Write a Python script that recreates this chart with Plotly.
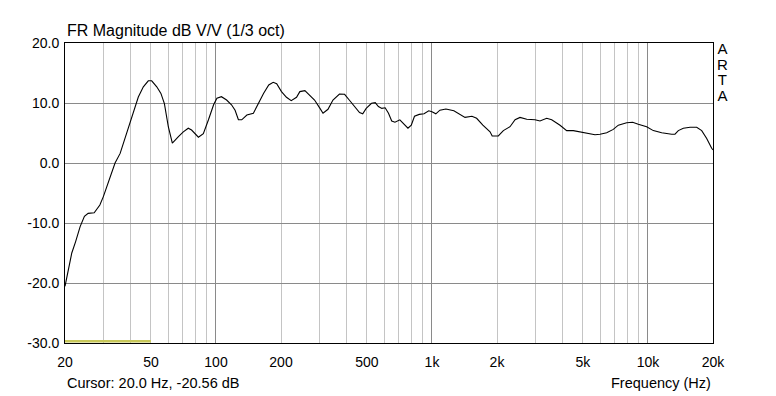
import math
import plotly.graph_objects as go

freq_hz = [20, 20.7, 21.5, 22.4, 23.5, 24.6, 25.6, 27.3, 29.0, 30.1, 31.7, 33.1, 34.1, 36.0,
           37.9, 40.0, 42.2, 43.7, 46.1, 48.6, 50.4, 53.2, 55.6, 57.7, 60.2, 62.8, 67.0, 70.6,
           74.4, 77.1, 82.9, 87.4, 92.3, 97.5, 101, 106, 112, 118, 122.6, 127, 131.6, 139,
           149, 156.5, 166, 175.5, 184, 191, 201, 212, 223, 236, 244.5, 258, 272, 286, 303,
           313, 330, 348, 373, 394, 414, 437, 462, 478, 496, 525, 546, 565, 586, 607, 629,
           651, 674, 710, 736, 774, 802, 830, 873, 919, 966, 1000, 1042, 1088, 1160, 1263,
           1422, 1531, 1610, 1720, 1857, 1900, 2028, 2140, 2298, 2425, 2556, 2746, 3000,
           3162, 3396, 3583, 3916, 4204, 4512, 4844, 5204, 5686, 5998, 6440, 6908, 7290,
           7968, 8494, 9020, 9860, 10586, 11576, 12876, 13336, 13818, 14576, 15660, 16812,
           17734, 18700, 19720, 20000]
mag_db = [-20.56, -17.8, -15.0, -13.1, -10.6, -8.9, -8.4, -8.3, -7.0, -5.6, -3.4, -1.4, 0.0, 1.6,
          4.1, 6.9, 9.4, 11.0, 12.7, 13.7, 13.7, 12.7, 11.6, 9.9, 6.0, 3.3, 4.4, 5.2,
          5.8, 5.5, 4.3, 4.9, 7.2, 9.7, 10.8, 11.05, 10.5, 9.7, 8.8, 7.2, 7.2, 8.0,
          8.3, 9.9, 11.6, 13.0, 13.45, 13.2, 11.9, 10.95, 10.4, 10.95, 11.9, 12.05, 11.3, 10.5, 9.1,
          8.3, 8.95, 10.5, 11.5, 11.45, 10.5, 9.4, 8.4, 8.2, 9.1, 9.95, 10.05, 9.4, 9.1, 9.2, 8.3,
          7.0, 6.8, 7.2, 6.6, 5.8, 6.3, 7.8, 8.1, 8.2, 8.7, 8.55, 8.2, 8.8, 9.0, 8.7,
          7.6, 7.8, 7.45, 6.3, 5.2, 4.5, 4.5, 5.4, 6.05, 7.2, 7.6, 7.3, 7.2,
          7.0, 7.45, 7.2, 6.3, 5.4, 5.4, 5.2, 5.05, 4.7, 4.8, 5.05, 5.6, 6.3,
          6.7, 6.8, 6.45, 6.05, 5.4, 5.05, 4.8, 4.8, 5.4, 5.8, 5.95, 5.95,
          5.4, 4.1, 2.45, 2.2]

marker_freq = [20, 50]
marker_db = [-29.7, -29.7]

x_tick_vals = [20, 50, 100, 200, 500, 1000, 2000, 5000, 10000, 20000]
x_tick_text = ["20", "50", "100", "200", "500", "1k", "2k", "5k", "10k", "20k"]
x_minor_vals = [30, 40, 60, 70, 80, 90, 300, 400, 600, 700, 800, 900,
                3000, 4000, 6000, 7000, 8000, 9000]
x_decade_vals = [100, 1000, 10000]
y_tick_vals = [-30, -20, -10, 0, 10, 20]
y_tick_text = ["-30.0", "-20.0", "-10.0", "0.0", "10.0", "20.0"]

FONT = "Liberation Sans, Arial, sans-serif"
LIGHT = "#c4c4c4"
DARK = "#8a8a8a"

fig = go.Figure()
fig.add_trace(go.Scatter(x=marker_freq, y=marker_db, mode="lines",
                         line=dict(color="#c8c85a", width=2.5), hoverinfo="skip"))
fig.add_trace(go.Scatter(x=freq_hz, y=mag_db, mode="lines",
                         line=dict(color="black", width=1.1)))

xr = [math.log10(20), math.log10(20000)]

fig.update_layout(
    width=776, height=396,
    margin=dict(l=65, r=63, t=43, b=53),
    paper_bgcolor="white", plot_bgcolor="white",
    showlegend=False,
    font=dict(family=FONT, size=14, color="black"),
    xaxis=dict(type="log", range=xr, tickvals=x_tick_vals, ticktext=x_tick_text,
               showgrid=True, gridcolor=LIGHT, gridwidth=1, ticks="",
               showline=True, linecolor="black", linewidth=1, mirror=True,
               zeroline=False, tickfont=dict(size=14), ticklabelstandoff=6,
               minor=dict(tickvals=x_minor_vals, showgrid=True, gridcolor=LIGHT, gridwidth=1, ticks="")),
    xaxis2=dict(type="log", range=xr, overlaying="x", tickvals=x_decade_vals,
                showticklabels=False, showgrid=True, gridcolor=DARK, gridwidth=1,
                ticks="", showline=False, zeroline=False),
    yaxis=dict(range=[-30, 20], tickvals=y_tick_vals, ticktext=y_tick_text,
               showgrid=True, gridcolor=DARK, gridwidth=1, ticks="",
               showline=True, linecolor="black", linewidth=1, mirror=True,
               zeroline=False, tickfont=dict(size=14), ticklabelstandoff=2),
)

# invisible trace to activate the decade-grid axis
fig.add_trace(go.Scatter(x=[20], y=[-40], xaxis="x2", mode="markers",
                         marker=dict(opacity=0), hoverinfo="skip"))

fig.add_annotation(text="FR Magnitude dB V/V (1/3 oct)", xref="paper", yref="paper",
                   x=0, y=1, xanchor="left", yanchor="bottom", yshift=2, showarrow=False,
                   font=dict(size=16, family=FONT))
fig.add_annotation(text="Cursor: 20.0 Hz, -20.56 dB", xref="paper", yref="paper",
                   x=0, y=-0.133, xanchor="left", yanchor="middle", showarrow=False,
                   font=dict(size=14.5, family=FONT))
fig.add_annotation(text="Frequency (Hz)", xref="paper", yref="paper",
                   x=1, y=-0.133, xanchor="right", yanchor="middle", showarrow=False,
                   font=dict(size=14.5, family=FONT))
arta = "<br>".join("<span style='font-size:15px'>%s</span>" % c for c in "ARTA")
fig.add_annotation(text=arta, xref="paper", yref="paper",
                   x=1.0147, y=(343 - 72) / 300.0, xanchor="center", yanchor="middle",
                   showarrow=False, borderpad=0, align="center",
                   font=dict(size=12, family=FONT))

fig.write_html("out.html", config={"displayModeBar": False},
               post_script="document.body.style.margin='0';")
